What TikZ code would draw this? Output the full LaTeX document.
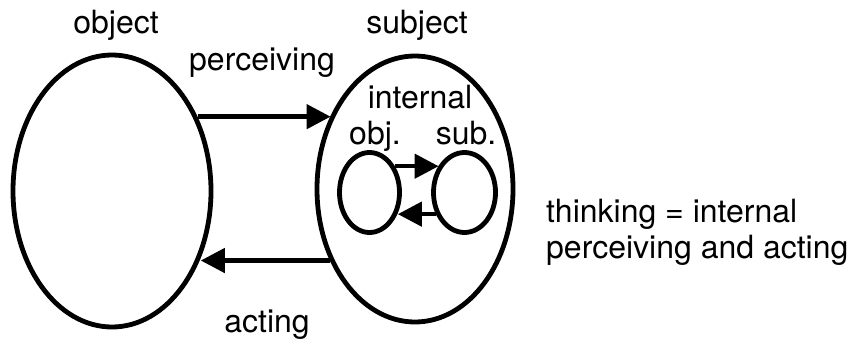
\documentclass[tikz,border=0pt]{standalone}
\usepackage{fontspec}
\setmainfont{TeX Gyre Heros}
\usetikzlibrary{shapes.geometric,arrows.meta}
\begin{document}
\begin{tikzpicture}[x=1pt,y=-1pt,
  blob/.style={draw=black,line width=4.8pt,ellipse,inner sep=0pt},
  arr/.style={line width=4.5pt,-{Triangle[length=24pt,width=24pt]}},
  lbl/.style={anchor=base,inner sep=0pt,font=\fontsize{32}{38}\selectfont}]
\useasboundingbox (0,0) rectangle (854,343);

% outer object and subject
\node[blob,minimum width=198pt,minimum height=272pt] (L) at (112,191) {};
\node[blob,minimum width=196pt,minimum height=266pt] (R) at (415,189) {};

% internal object and subject inside the subject
\node[blob,minimum width=60pt,minimum height=80pt] (A) at (369.5,192.5) {};
\node[blob,minimum width=62pt,minimum height=80pt] (B) at (464.5,192.5) {};

% perceiving and acting
\draw[arr] (L.41) -- (L.41 -| R.139.4);
\draw[arr] (R.-140.5) -- (R.-140.5 -| L.-37.9);

% internal perceiving and acting
\draw[arr] (A.46) -- (A.46 -| B.134);
\draw[arr] (B.-143.3) -- (B.-143.3 -| A.-36.7);

% labels
\node[lbl] (tObj) at (116,33) {object};
\node[lbl] (tSubj) at (417,33) {subject};
\node[lbl] (tPerc) at (262,70) {perceiving};
\node[lbl] (tAct) at (267,332) {acting};
\node[lbl] (tInt) at (420,108) {internal};
\node[lbl] (tIObj) at (375,144) {obj.};
\node[lbl] (tISub) at (466,144) {sub.};
\node[lbl,anchor=base west] (tThink1) at (546,222) {thinking = internal};
\node[lbl,anchor=base west] (tThink2) at (546,258) {perceiving and acting};
\end{tikzpicture}
\end{document}
